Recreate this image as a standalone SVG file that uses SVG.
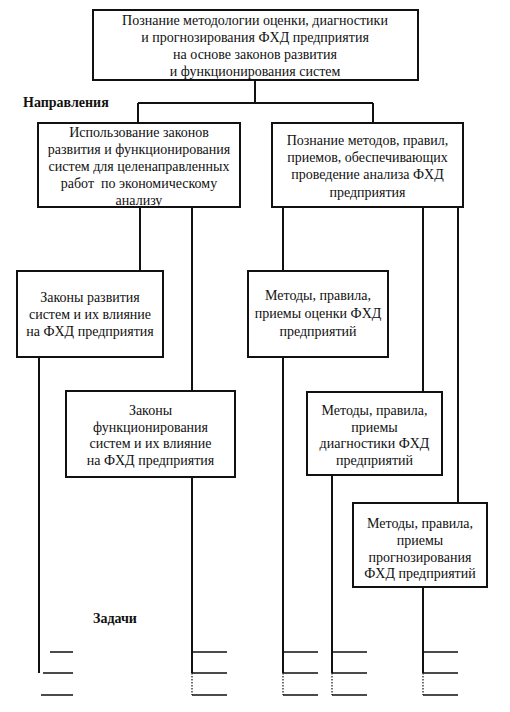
<svg xmlns="http://www.w3.org/2000/svg" width="510" height="712" viewBox="0 0 510 712">
<style>
.box{fill:#fff;stroke:#111;stroke-width:2}
.t{font-family:"Liberation Serif","Times New Roman",serif;font-size:14px;fill:#111;text-anchor:middle;white-space:pre}
.lbl{font-family:"Liberation Serif","Times New Roman",serif;font-size:14px;font-weight:bold;fill:#111}
.c{fill:none;stroke:#111;stroke-width:2}
.tk{fill:none;stroke:#111;stroke-width:1.5}
.d{fill:none;stroke:#111;stroke-width:1.2;stroke-dasharray:1.5 1.5}
</style>
<rect width="510" height="712" fill="#fff"/>
<g id="connectors">
<path class="c" d="M255 80V103M138 103H373M138 103V123M373 103V123"/>
<path class="c" d="M140 207V271M192 207V391M283 207V271M423 207V392M458 207V503"/>
<path class="c" d="M39 357V673M192 477V673M283 357V673M332 475V673M423 587V673"/>
<path class="d" d="M192 673V695M283 673V695M332 673V695M423 673V695"/>
<path class="tk" d="M50 652H73M43 673H73M192 652H227M192 673H227M283 652H318M283 673H318M332 652H367M332 673H367M423 652H458M423 673H458"/>
<path class="tk" d="M41 695H73M192 695H227M283 695H318M332 695H367M423 695H458"/>
</g>
<g id="labels">
<text class="lbl" x="23" y="107">Направления</text>
<text class="lbl" x="93" y="623">Задачи</text>
</g>
<g id="n-top">
<rect class="box" x="93" y="10" width="325" height="70"/>
<text class="t"><tspan x="255" y="25">Познание методологии оценки, диагностики</tspan><tspan x="255" y="42">и прогнозирования ФХД предприятия</tspan><tspan x="255" y="59">на основе законов развития</tspan><tspan x="255" y="76">и функционирования систем</tspan></text>
</g>
<g id="n-left">
<rect class="box" x="38" y="123" width="202" height="84"/>
<text class="t" xml:space="preserve"><tspan x="139" y="137">Использование законов</tspan><tspan x="139" y="154">развития и функционирования</tspan><tspan x="139" y="171">систем для целенаправленных</tspan><tspan x="139" y="188">работ  по экономическому</tspan><tspan x="139" y="205">анализу</tspan></text>
</g>
<g id="n-right">
<rect class="box" x="272" y="123" width="191" height="84"/>
<text class="t"><tspan x="367.5" y="145">Познание методов, правил,</tspan><tspan x="367.5" y="162">приемов, обеспечивающих</tspan><tspan x="367.5" y="179">проведение анализа ФХД</tspan><tspan x="367.5" y="197">предприятия</tspan></text>
</g>
<g id="n-l1">
<rect class="box" x="17" y="271" width="146" height="86"/>
<text class="t"><tspan x="90" y="302">Законы развития</tspan><tspan x="90" y="319">систем и их влияние</tspan><tspan x="90" y="336">на ФХД предприятия</tspan></text>
</g>
<g id="n-r1">
<rect class="box" x="248" y="271" width="140" height="86"/>
<text class="t"><tspan x="318" y="300">Методы, правила,</tspan><tspan x="318" y="318">приемы оценки ФХД</tspan><tspan x="318" y="336">предприятий</tspan></text>
</g>
<g id="n-l2">
<rect class="box" x="66" y="391" width="169" height="86"/>
<text class="t"><tspan x="150.5" y="415">Законы</tspan><tspan x="150.5" y="432">функционирования</tspan><tspan x="150.5" y="448">систем и их влияние</tspan><tspan x="150.5" y="465">на ФХД предприятия</tspan></text>
</g>
<g id="n-r2">
<rect class="box" x="307" y="392" width="135" height="83"/>
<text class="t"><tspan x="374.5" y="415">Методы, правила,</tspan><tspan x="374.5" y="432">приемы</tspan><tspan x="374.5" y="448">диагностики ФХД</tspan><tspan x="374.5" y="465">предприятий</tspan></text>
</g>
<g id="n-r3">
<rect class="box" x="353" y="503" width="134" height="84"/>
<text class="t"><tspan x="420" y="528">Методы, правила,</tspan><tspan x="420" y="545">приемы</tspan><tspan x="420" y="562">прогнозирования</tspan><tspan x="420" y="578">ФХД предприятий</tspan></text>
</g>
</svg>
